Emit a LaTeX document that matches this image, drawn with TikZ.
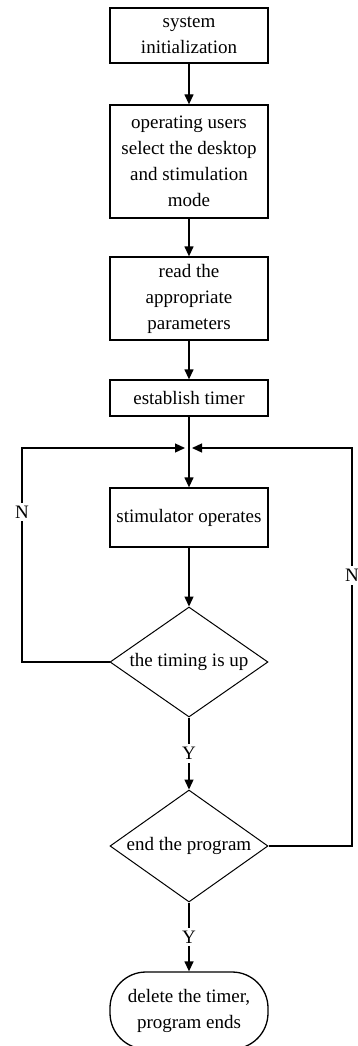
\documentclass[tikz,border=0pt]{standalone}
\usepackage{fontspec}
\setmainfont{Liberation Serif}
\usetikzlibrary{arrows.meta,shapes.geometric}
\begin{document}
\begin{tikzpicture}[x=1pt,y=-1pt,
  every node/.style={font=\fontsize{19}{26}\selectfont, inner sep=0pt},
  flow/.style={line width=1.3pt},
  arr/.style={flow,-{Triangle[length=10pt,width=9pt]}},
  stepbox/.style={draw, line width=1.3pt, minimum width=158pt, align=center},
  decide/.style={diamond, draw, line width=1pt, minimum width=158pt, minimum height=110pt},
  tag/.style={fill=white, inner sep=3pt}]
\useasboundingbox (0,0) rectangle (357,1046);

% process steps
\node[stepbox, minimum height=55pt] (init) at (189,35.5) {system\\initialization};
\node[stepbox, minimum height=113pt] (select) at (189,161.5) {operating users\\select the desktop\\and stimulation\\mode};
\node[stepbox, minimum height=83pt] (read) at (189,298.5) {read the\\appropriate\\parameters};
\node[stepbox, minimum height=36pt] (timer) at (189,398) {establish timer};
\coordinate (jn) at (189,448);
\node[stepbox, minimum height=59pt] (stim) at (189,517.5) {stimulator operates};

% decisions
\node[decide, label=center:{the timing is up}] (up) at (189,662) {};
\node[decide, minimum height=112pt, label=center:{end the program}] (end) at (189,846) {};

% terminal
\node[draw, line width=1.3pt, rounded corners=36pt, minimum width=158pt, minimum height=77pt, align=center] (stop) at (189,1010.5) {delete the timer,\\program ends};

% main flow
\draw[arr] (init) -- (select);
\draw[arr] (select) -- (read);
\draw[arr] (read) -- (timer);
\draw[flow] (timer) -- (jn);
\draw[arr] (jn) -- (stim);
\draw[arr] (stim) -- (up);
\draw[arr] (up) -- node[tag] {Y} (end);
\draw[arr] (end) -- node[tag] {Y} (stop);

% loop back when the timing is not up
\coordinate (lb) at (22,662);
\coordinate (lt) at (22,448);
\draw[arr] (up.west) -- (lb) -- node[tag, pos=0.7] {N} (lt) -- ([xshift=-4pt]jn);

% loop back when the program is not ended
\coordinate (rb) at (352,846);
\coordinate (rt) at (352,448);
\draw[arr] (end.east) -- (rb) -- node[tag, pos=0.68] {N} (rt) -- ([xshift=3pt]jn);
\end{tikzpicture}
\end{document}
